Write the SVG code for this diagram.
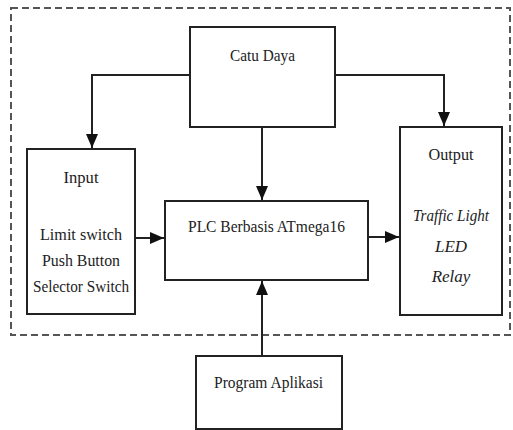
<svg xmlns="http://www.w3.org/2000/svg" width="513" height="430" viewBox="0 0 513 430">
<style>
.box{fill:#fff;stroke:#222;stroke-width:2}
.c{fill:none;stroke:#222;stroke-width:2}
</style>
<defs>
<marker id="ah" markerUnits="userSpaceOnUse" markerWidth="16" markerHeight="12" refX="14" refY="6" orient="auto">
<path d="M0,0 L14,6 L0,12 Z" fill="#111"/>
</marker>
</defs>
<rect width="513" height="430" fill="#fff"/>
<rect x="11" y="8" width="499" height="327" fill="none" stroke="#555" stroke-width="2" stroke-dasharray="7 4"/>
<g id="connectors">
<polyline class="c" points="190,75 92,75 92,148" marker-end="url(#ah)"/>
<polyline class="c" points="335,75 444,75 444,126" marker-end="url(#ah)"/>
<line class="c" x1="262" y1="127" x2="262" y2="200" marker-end="url(#ah)"/>
<line class="c" x1="135" y1="238" x2="164" y2="238" marker-end="url(#ah)"/>
<line class="c" x1="368" y1="237" x2="399" y2="237" marker-end="url(#ah)"/>
<line class="c" x1="262" y1="356" x2="262" y2="281" marker-end="url(#ah)"/>
</g>
<g font-family="Liberation Serif, Times New Roman, serif" font-size="17" fill="#222" text-anchor="middle">
<g id="catu-daya">
<rect class="box" x="190" y="27" width="145" height="100"/>
<text x="262.5" y="61" textLength="65" lengthAdjust="spacingAndGlyphs">Catu Daya</text>
</g>
<g id="input">
<rect class="box" x="27" y="149" width="108" height="165"/>
<text x="81" y="183" textLength="35" lengthAdjust="spacingAndGlyphs">Input</text>
<text x="81" y="240" textLength="82" lengthAdjust="spacingAndGlyphs">Limit switch</text>
<text x="81" y="266" textLength="78" lengthAdjust="spacingAndGlyphs">Push Button</text>
<text x="81" y="292" textLength="96" lengthAdjust="spacingAndGlyphs">Selector Switch</text>
</g>
<g id="plc">
<rect class="box" x="165" y="201" width="203" height="79"/>
<text x="266.5" y="232" textLength="157" lengthAdjust="spacingAndGlyphs">PLC Berbasis ATmega16</text>
</g>
<g id="output">
<rect class="box" x="400" y="127" width="102" height="188"/>
<text x="451" y="160" textLength="45" lengthAdjust="spacingAndGlyphs">Output</text>
<text x="451" y="221" font-style="italic" textLength="76" lengthAdjust="spacingAndGlyphs">Traffic Light</text>
<text x="451" y="252" font-style="italic">LED</text>
<text x="451" y="282" font-style="italic">Relay</text>
</g>
<g id="program-aplikasi">
<rect class="box" x="196" y="356" width="146" height="73"/>
<text x="268.5" y="388" textLength="109" lengthAdjust="spacingAndGlyphs">Program Aplikasi</text>
</g>
</g>
</svg>
